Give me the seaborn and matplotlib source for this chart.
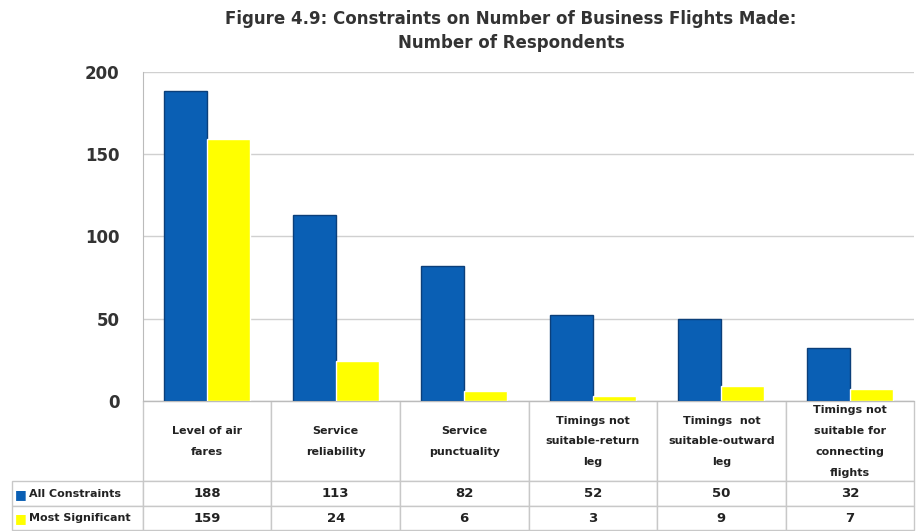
import pandas as pd
import seaborn as sns
import matplotlib.pyplot as plt
import matplotlib.transforms as mtransforms

# constraints on business flights, number of respondents
categories = ["Level of air\nfares", "Service\nreliability", "Service\npunctuality",
              "Timings not\nsuitable-return\nleg", "Timings  not\nsuitable-outward\nleg",
              "Timings not\nsuitable for\nconnecting\nflights"]
all_constraints = [188, 113, 82, 52, 50, 32]
most_significant = [159, 24, 6, 3, 9, 7]
series_names = ["All Constraints", "Most Significant"]
colors = ["#0a5fb4", "#ffff00"]

df = pd.DataFrame({"category": categories * 2,
                   "series": [series_names[0]] * 6 + [series_names[1]] * 6,
                   "value": all_constraints + most_significant})

sns.set_style("white")
plt.rcParams['font.family'] = ['DejaVu Sans']

fig = plt.figure(figsize=(9.16, 5.31), dpi=100)
ax = fig.add_axes([0.156, 0.245, 0.842, 0.62])

sns.barplot(data=df, x="category", y="value", hue="series", palette=colors,
            width=0.67, ax=ax, legend=False, saturation=1)
for bar in ax.patches[:6]:
    bar.set_edgecolor("#0b3f7a")
    bar.set_linewidth(1)

ax.set_ylim(0, 200)
ax.set_yticks([0, 50, 100, 150, 200])
ax.tick_params(axis="y", labelsize=12, length=5, color="#bbbbbb", pad=12)
for t in ax.get_yticklabels():
    t.set_color("#333333")
    t.set_fontweight("bold")
ax.set_xlim(-0.5, 5.5)
ax.set_xticks([])
ax.set_xlabel("")
ax.set_ylabel("")
ax.yaxis.grid(True, color="#d0d0d0", linewidth=1)
ax.set_axisbelow(True)
for s in ["top", "right"]:
    ax.spines[s].set_visible(False)
ax.spines["left"].set_color("#bbbbbb")
ax.spines["bottom"].set_color("#bbbbbb")

fig.suptitle("Figure 4.9: Constraints on Number of Business Flights Made:\nNumber of Respondents",
             x=0.558, y=0.982, fontsize=12, fontweight="bold", color="#333333",
             linespacing=1.45)

# data table under the bars (category names drawn separately for line spacing)
cell_text = [[""] * 7,
             ["All Constraints"] + [str(v) for v in all_constraints],
             ["Most Significant"] + [str(v) for v in most_significant]]
label_w = 131 / 772
tbl = ax.table(cellText=cell_text, cellLoc="center",
               bbox=[-label_w, -0.392, 1 + label_w, 0.392])
tbl.auto_set_font_size(False)
row_h = [81, 25, 24]
for (r, c), cell in tbl.get_celld().items():
    cell.set_height(row_h[r])
    cell.set_width(131 if c == 0 else 128.7)
    cell.set_edgecolor("#c8c8c8")
    cell.set_linewidth(1)
    txt = cell.get_text()
    txt.set_fontsize(8)
    txt.set_fontweight("bold")
    txt.set_color("#222222")
    if r == 0 and c == 0:
        cell.visible_edges = ""
    if r > 0 and c == 0:
        cell._loc = "left"
        cell.PAD = 0.13
        txt.set_ha("left")
    if r > 0 and c > 0:
        txt.set_fontsize(9.5)

trans = mtransforms.blended_transform_factory(ax.transData, ax.transAxes)
header_y = -(81 / 2) / 329
for i, name in enumerate(categories):
    ax.text(i, header_y, name, transform=trans, ha="center", va="center",
            fontsize=8, fontweight="bold", color="#222222", linespacing=2.35)

# legend keys inside the row label cells
for i, col in enumerate(colors):
    fig.text(0.016, 1 - (495 + 24 * i) / 531, "■", color=col, fontsize=9,
             va="center", ha="left")

fig.savefig("out.png", dpi=100)
